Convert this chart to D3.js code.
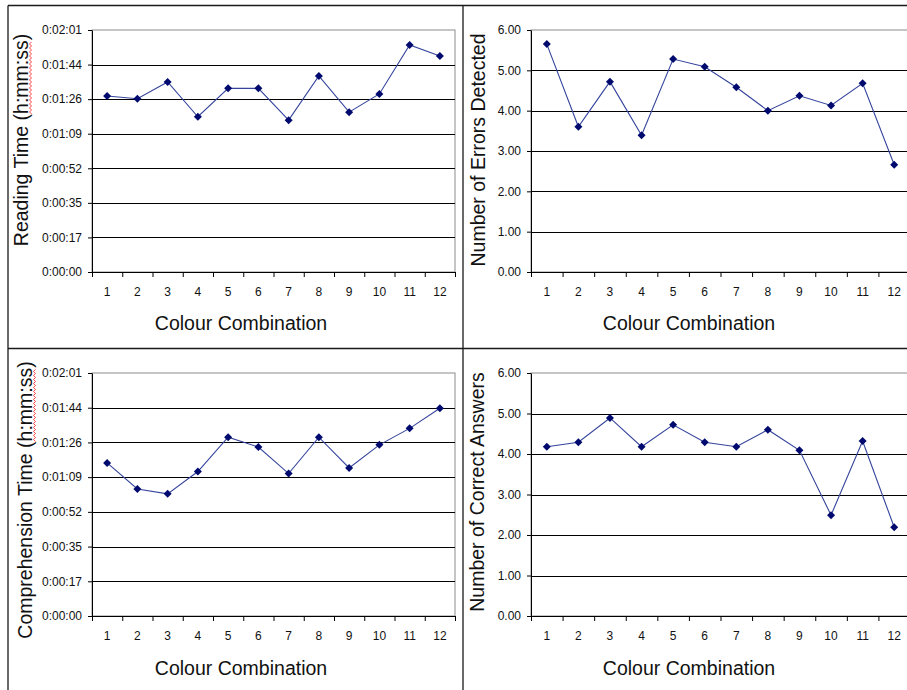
<!DOCTYPE html>
<html>
<head>
<meta charset="utf-8">
<script src="https://cdn.jsdelivr.net/npm/d3@7"></script>
<style>
  body { margin: 0; background: #fff; }
  svg { display: block; font-family: Arial, "Liberation Sans", sans-serif; }
</style>
</head>
<body>
<div id="chart"></div>
<script>
// Colour combinations on the x axis
const categories = ["1", "2", "3", "4", "5", "6", "7", "8", "9", "10", "11", "12"];

// Series values (times in seconds)
const readingTime = [88.0, 86.6, 95.0, 77.6, 91.8, 91.8, 75.9, 98.0, 79.9, 89.0, 113.5, 108.0];
const errorsDetected = [5.65, 3.6, 4.72, 3.39, 5.28, 5.09, 4.58, 4.0, 4.37, 4.13, 4.68, 2.66];
const comprehensionTime = [76.2, 63.2, 60.8, 71.9, 89.0, 84.1, 70.9, 89.0, 73.7, 85.2, 93.4, 103.4];
const correctAnswers = [4.18, 4.29, 4.89, 4.18, 4.72, 4.29, 4.18, 4.6, 4.09, 2.49, 4.32, 2.19];

// Tick labels
const timeTickLabels = ["0:00:00", "0:00:17", "0:00:35", "0:00:52", "0:01:09", "0:01:26", "0:01:44", "0:02:01"];
const countTickLabels = ["0.00", "1.00", "2.00", "3.00", "4.00", "5.00", "6.00"];

const W = 907, H = 690;

const svg = d3.select("#chart")
  .append("svg")
  .attr("width", W)
  .attr("height", H);

// Panel frame lines
const frame = svg.append("g").attr("stroke", "#1a1a1a").attr("stroke-width", 1.3);
frame.append("line").attr("x1", 8).attr("x2", 8).attr("y1", 5.5).attr("y2", H);
frame.append("line").attr("x1", 8).attr("x2", W).attr("y1", 5.5).attr("y2", 5.5);
frame.append("line").attr("x1", 463).attr("x2", 463).attr("y1", 5.5).attr("y2", H);
frame.append("line").attr("x1", 8).attr("x2", W).attr("y1", 348.5).attr("y2", 348.5);

// One Excel-style day fraction step = 0.0002 days = 17.28 s
const timeStep = 17.28;

const panels = [
  {
    values: readingTime, ticks: timeTickLabels, step: timeStep,
    box: { x0: 92, x1: 455, y0: 30, y1: 272 },
    yTitle: "Reading Time (h:mm:ss)", squiggle: "h:mm:ss",
    yTitlePos: [28, 140], xTitlePos: [241, 330]
  },
  {
    values: errorsDetected, ticks: countTickLabels, step: 1,
    box: { x0: 531, x1: 910, y0: 30, y1: 272 },
    yTitle: "Number of Errors Detected",
    yTitlePos: [485, 150], xTitlePos: [689, 330]
  },
  {
    values: comprehensionTime, ticks: timeTickLabels, step: timeStep,
    box: { x0: 92, x1: 455, y0: 373, y1: 616 },
    yTitle: "Comprehension Time (h:mm:ss)", squiggle: "h:mm:ss",
    yTitlePos: [32, 500], xTitlePos: [241, 675]
  },
  {
    values: correctAnswers, ticks: countTickLabels, step: 1,
    box: { x0: 531, x1: 910, y0: 373, y1: 616 },
    yTitle: "Number of Correct Answers",
    yTitlePos: [484, 492], xTitlePos: [689, 675]
  }
];

panels.forEach((p) => {
  const b = p.box;
  const tickValues = p.ticks.map((_, i) => i * p.step);
  const yMax = tickValues[tickValues.length - 1];

  const x = d3.scaleBand().domain(categories).range([b.x0, b.x1]).padding(0);
  const xEdges = d3.scaleLinear().domain([0, categories.length]).range([b.x0, b.x1]);
  const y = d3.scaleLinear().domain([0, yMax]).range([b.y1, b.y0]);

  const g = svg.append("g");

  // Plot area border (grey)
  g.append("rect")
    .attr("x", b.x0)
    .attr("y", b.y0)
    .attr("width", b.x1 - b.x0)
    .attr("height", b.y1 - b.y0)
    .attr("fill", "none")
    .attr("stroke", "#8c8c8c")
    .attr("stroke-width", 1);

  // Gridlines
  g.append("g")
    .selectAll("line")
    .data(tickValues.slice(1, -1))
    .join("line")
    .attr("x1", b.x0)
    .attr("x2", b.x1)
    .attr("y1", (d) => Math.round(y(d)) + 0.5)
    .attr("y2", (d) => Math.round(y(d)) + 0.5)
    .attr("stroke", "#000")
    .attr("stroke-width", 1);

  // Y axis
  const yAxis = g.append("g")
    .attr("transform", `translate(${b.x0},0)`)
    .call(
      d3.axisLeft(y)
        .tickValues(tickValues)
        .tickFormat((d, i) => p.ticks[i])
        .tickSize(4)
        .tickPadding(6)
        .tickSizeOuter(0)
    );
  yAxis.select(".domain").attr("stroke", "#000");
  yAxis.selectAll("text").style("font-size", "12px").attr("fill", "#111");

  // X axis: tick marks at category boundaries
  const xTicks = g.append("g")
    .attr("transform", `translate(0,${b.y1})`)
    .call(
      d3.axisBottom(xEdges)
        .tickValues(d3.range(categories.length + 1))
        .tickFormat("")
        .tickSize(5)
        .tickSizeOuter(0)
    );
  xTicks.select(".domain").attr("stroke", "#000");

  // X axis labels
  const xLabels = g.append("g")
    .attr("transform", `translate(0,${b.y1})`)
    .call(d3.axisBottom(x).tickSize(0).tickPadding(15));
  xLabels.select(".domain").remove();
  xLabels.selectAll("text").style("font-size", "12px").attr("fill", "#111");

  // Series line
  const line = d3.line()
    .x((d, i) => x(categories[i]) + x.bandwidth() / 2)
    .y((d) => y(d));

  g.append("path")
    .datum(p.values)
    .attr("d", line)
    .attr("fill", "none")
    .attr("stroke", "#34449c")
    .attr("stroke-width", 1.1);

  // Diamond markers
  g.append("g")
    .selectAll("path")
    .data(p.values)
    .join("path")
    .attr("d", d3.symbol().type(d3.symbolSquare).size(32))
    .attr("transform", (d, i) =>
      `translate(${x(categories[i]) + x.bandwidth() / 2},${y(d)}) rotate(45)`)
    .attr("fill", "#000a6e");

  // Axis titles
  g.append("text")
    .attr("x", p.xTitlePos[0])
    .attr("y", p.xTitlePos[1])
    .attr("text-anchor", "middle")
    .style("font-size", "19.5px")
    .attr("fill", "#111")
    .text("Colour Combination");

  const yt = g.append("g")
    .attr("transform", `translate(${p.yTitlePos[0]},${p.yTitlePos[1]}) rotate(-90)`);

  const yText = yt.append("text")
    .attr("x", 0)
    .attr("y", 0)
    .attr("text-anchor", "middle")
    .style("font-size", "19.5px")
    .attr("fill", "#111")
    .text(p.yTitle);

  // Red spell-check squiggle under "h:mm:ss"
  if (p.squiggle) {
    const node = yText.node();
    const total = node.getComputedTextLength();
    const idx = p.yTitle.indexOf(p.squiggle);
    const start = -total / 2 + node.getSubStringLength(0, idx);
    const len = node.getSubStringLength(idx, p.squiggle.length);
    const pts = d3.range(0, Math.floor(len / 2) + 1).map((k) => [start + k * 2, k % 2 ? 1.5 : 3.5]);
    yt.append("path")
      .attr("d", d3.line()(pts))
      .attr("fill", "none")
      .attr("stroke", "#ff2a2a")
      .attr("stroke-width", 0.9);
  }
});
</script>
</body>
</html>
